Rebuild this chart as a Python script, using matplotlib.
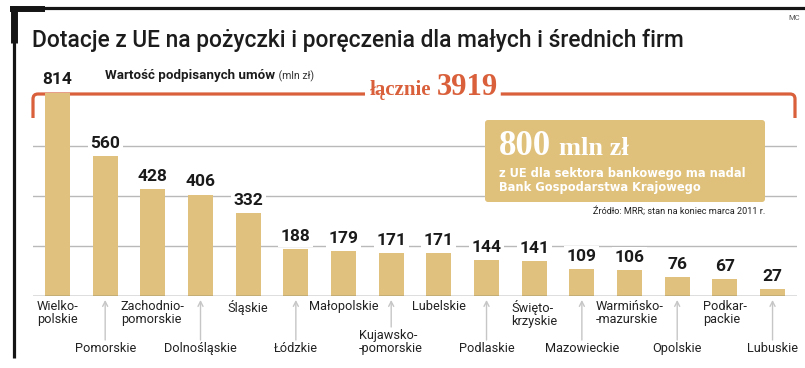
import matplotlib
matplotlib.use("Agg")
import matplotlib.pyplot as plt
from matplotlib.transforms import Affine2D, blended_transform_factory
from matplotlib.path import Path
from matplotlib.patches import PathPatch, FancyBboxPatch
from matplotlib.lines import Line2D
from matplotlib import font_manager as fm

# ---------------- data ----------------
regions = ["Wielko-\npolskie", "Pomorskie", "Zachodnio-\npomorskie", "Dolnośląskie",
           "Śląskie", "Łódzkie", "Małopolskie", "Kujawsko-\n-pomorskie", "Lubelskie",
           "Podlaskie", "Święto-\nkrzyskie", "Mazowieckie", "Warmińsko-\n-mazurskie",
           "Opolskie", "Podkar-\npackie", "Lubuskie"]
values = [814, 560, 428, 406, 332, 188, 179, 171, 171, 144, 141, 109, 106, 76, 67, 27]
total = 3919
gridlines = [200, 400, 600]

title = "Dotacje z UE na pożyczki i poręczenia dla małych i średnich firm"
subtitle = "Wartość podpisanych umów"
unit = " (mln zł)"
total_label = "łącznie"
box_big = "800"
box_unit = "mln zł"
box_text = "z UE dla sektora bankowego ma nadal\nBank Gospodarstwa Krajowego"
source = "Źródło: MRR; stan na koniec marca 2011 r."
credit = "MC"


def pick(*names):
    for n in names:
        try:
            fm.findfont(fm.FontProperties(family=n), fallback_to_default=False)
            return n
        except Exception:
            pass
    return "DejaVu Sans"


NARROW = pick("Liberation Sans Narrow", "Roboto", "Liberation Sans")
SANS = pick("Roboto", "Liberation Sans")
SERIF = pick("Liberation Serif", "DejaVu Serif")
WIDE = pick("DejaVu Sans")

W, H = 805, 368
BAR = "#E0C27E"
ORANGE = "#D9603B"

fig = plt.figure(figsize=(W / 100, H / 100), dpi=100)
fig.patch.set_facecolor("white")
T = Affine2D().scale(1 / W, -1 / H).translate(0, 1) + fig.transFigure  # pixel coords, top-left origin

# main axes: x index 0 -> 57.5px, spacing 47.67px ; 0.25 px per unit, baseline at y=296px
ax = fig.add_axes([33 / W, 72 / H, (797 - 33) / W, 296 / H])
ax.set_xlim(-0.514, 15.513)
ax.set_ylim(0, 296 / 0.25)
ax.axis("off")

x = list(range(len(values)))
for g in gridlines:
    ax.axhline(g, color="#b9b9b9", lw=1.0, zorder=0)
ax.axhline(0, color="#5a5a5a", lw=1.0, zorder=3)
ax.bar(x, values, width=0.524, color=BAR, zorder=2)

for i, v in zip(x, values):
    ax.annotate(f"{v}", xy=(i, v), xytext=(0, 8), textcoords="offset pixels",
                ha="center", va="baseline", fontsize=12.5, fontweight="bold",
                family=SANS, color="#1a1a1a", zorder=4,
                bbox=dict(boxstyle="square,pad=0.15", fc="white", ec="none"))

# region labels
BT = blended_transform_factory(ax.transData, T)
for i, name in enumerate(regions):
    if i % 2 == 0:
        ax.text(i, 300, name, transform=BT, ha="center", va="top", ma="left",
                fontsize=9.2, family=SANS, color="#222222", linespacing=1.0, clip_on=False)
    else:
        two = "\n" in name
        top = 329 if two else 342
        ax.text(i, top, name, transform=BT, ha="center", va="top", ma="left",
                fontsize=9.2, family=SANS, color="#222222", linespacing=1.0, clip_on=False)
        ax.annotate("", xy=(i, 300), xycoords=BT, xytext=(i, 327 if two else 340), textcoords=BT,
                    arrowprops=dict(arrowstyle="->,head_length=0.35,head_width=0.18",
                                    color="#c6c6c6", lw=1.0, shrinkA=0, shrinkB=0),
                    annotation_clip=False)

# ---------- header texts ----------
fig.canvas.draw()
r = fig.canvas.get_renderer()

t_title = ax.text(32, 47, title, transform=T, ha="left", va="baseline", fontsize=19,
                  family=NARROW, fontweight="medium", color="#1c1c1c", clip_on=False)
wt = t_title.get_window_extent(r).width
t_title.set_fontsize(19 * 650 / wt)

t_sub = ax.text(105, 79, subtitle, transform=T, ha="left", va="baseline", fontsize=9.6,
                fontweight="bold", family=SANS, color="#1c1c1c", clip_on=False)
e = t_sub.get_window_extent(r)
ax.text(e.x1 + 1, 79, unit, transform=T, ha="left", va="baseline", fontsize=7.6,
        family=SANS, color="#333333", clip_on=False)

t_l = ax.text(370, 95, total_label, transform=T, ha="left", va="baseline", fontsize=15,
              fontweight="bold", family=SERIF, color=ORANGE, clip_on=False)
e = t_l.get_window_extent(r)
t_n = ax.text(e.x1 + 5, 95, f"{total}", transform=T, ha="left", va="baseline", fontsize=22,
              fontweight="bold", family=SERIF, color=ORANGE, clip_on=False)
e2 = t_n.get_window_extent(r)
gap_r = e2.x1 + 3

# bracket (under the bars)
rad = 5
left = Path([(33, 118), (33, 94 + rad), (33, 94), (33 + rad, 94), (365, 94)],
            [Path.MOVETO, Path.LINETO, Path.CURVE3, Path.CURVE3, Path.LINETO])
right = Path([(gap_r, 94), (795 - rad, 94), (795, 94), (795, 94 + rad), (795, 118)],
             [Path.MOVETO, Path.LINETO, Path.CURVE3, Path.CURVE3, Path.LINETO])
for p in (left, right):
    ax.add_patch(PathPatch(p, transform=T, fc="none", ec=ORANGE, lw=2.3,
                           capstyle="butt", zorder=1, clip_on=False))

# info box
ax.add_patch(FancyBboxPatch((485, 120), 280, 82, boxstyle="round,pad=0,rounding_size=3",
                            transform=T, fc="#DFC17C", ec="none", zorder=5, clip_on=False))
t8 = ax.text(499, 155, box_big, transform=T, ha="left", va="baseline", fontsize=25,
             fontweight="bold", family=SERIF, color="white", zorder=6, clip_on=False)
e = t8.get_window_extent(r)
ax.text(e.x1 + 8, 155, box_unit, transform=T, ha="left", va="baseline", fontsize=19,
        fontweight="bold", family=SERIF, color="white", zorder=6, clip_on=False)
ax.text(499, 167, box_text, transform=T, ha="left", va="top", fontsize=8.3,
        fontweight="bold", family=WIDE, color="white", linespacing=1.05, zorder=6, clip_on=False)
ax.text(765, 214, source, transform=T, ha="right", va="baseline", fontsize=6.6,
        family=NARROW, color="#222222", clip_on=False)
ax.text(800, 20, credit, transform=T, ha="right", va="baseline", fontsize=5.5,
        family=SANS, color="#555555", clip_on=False)

# black frame
for (xs, ys, lw) in [((10, 805), (8, 8), 2.3), ((14.3, 14.3), (7, 358), 2.3),
                     ((10, 45), (8.7, 8.7), 4.3), ((13.5, 13.5), (6, 43), 5.0)]:
    ax.add_line(Line2D(xs, ys, transform=T, color="#151515", lw=lw,
                       solid_capstyle="butt", zorder=6, clip_on=False))

fig.savefig("out.png", dpi=100, facecolor="white")
